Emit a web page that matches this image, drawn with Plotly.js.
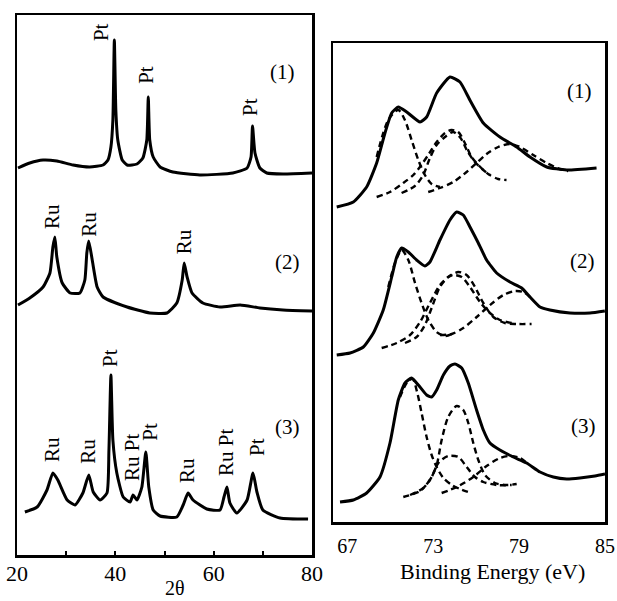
<!DOCTYPE html>
<html><head><meta charset="utf-8">
<script src="https://cdn.plot.ly/plotly-3.0.1.min.js"></script>
<style>html,body{margin:0;padding:0;background:#fff}#chart{width:617px;height:601px}</style>
</head><body><div id="chart"></div>
<script>
// ---- XRD (left panel), 2θ vs intensity (arbitrary units) ----
const xrd1X = [20.2,22.6,25.3,28.1,31.4,34.8,37.5,38.5,39.1,39.5,39.8,40.1,40.5,41.4,42.4,44.4,45.6,46.4,46.7,47.0,47.7,49.1,51.7,57.2,63.9,66.8,67.6,67.9,68.4,69.4,70.8,74.1,80.0];
const xrd1Y = [387,392,395,394,390,388,390,395,408,435,515,445,415,395,390,391,397,415,458,415,398,388,383,380,382,387,398,429,402,387,382,381,382];
const xrd2X = [20.2,22.6,25.3,26.7,27.3,27.7,28.1,29.2,30.8,32.8,33.8,34.2,34.6,35.3,36.3,37.5,42.4,47.0,50.5,52.5,53.6,54.0,54.6,55.6,57.8,61.3,65.4,69.4,74.1,80.0];
const xrd2Y = [250,257,268,282,308,318,298,272,262,262,275,302,314,295,268,258,248,242,242,252,275,292,278,262,252,248,250,247,245,244];
const xrd3X = [21.6,24.1,26.1,27.3,28.3,30.2,31.8,33.4,34.6,35.5,36.9,38.3,38.7,39.1,39.5,40.3,41.6,43.0,43.6,44.4,45.4,46.2,46.8,47.7,49.1,52.5,53.8,54.8,55.8,58.6,61.3,62.1,62.7,63.3,64.7,66.8,68.0,68.8,70.0,73.5,79.2];
const xrd3Y = [43,48,65,82,75,55,50,62,80,63,55,62,105,180,115,82,58,53,60,55,68,103,68,45,39,38,50,62,55,46,45,58,68,52,42,55,82,63,45,37,36];

// ---- XPS (right panel), binding energy (eV) vs intensity (arbitrary units) ----
const xps1X = [66.26,67.42,68.35,69.05,69.63,70.10,70.56,71.15,72.08,72.54,73.24,74.17,74.87,75.56,76.50,77.66,78.83,79.76,80.93,82.32,84.41];
const xps1Y = [315,320,335,359,389,409,415,410,400,405,429,445,440,422,399,385,375,365,355,352,354];
const xps1aX = [69.05,69.86,70.56,71.02,71.49,71.96,72.42,72.89,73.47];
const xps1aY = [365,402,412,402,382,362,347,338,335];
const xps1bX = [69.05,69.98,70.91,71.61,72.07,72.65,73.24,73.82,74.28,74.75,75.21,75.68,76.15,76.84,77.54,78.12];
const xps1bY = [325,330,339,347,355,367,380,389,392,390,379,365,357,348,343,342];
const xps1cX = [70.79,71.72,72.30,72.77,73.24,73.82,74.40,74.91,75.38,75.91,76.50,76.96];
const xps1cY = [329,336,347,364,377,385,390,384,371,360,352,347];
const xps1dX = [72.65,73.47,74.40,75.33,76.03,76.73,77.54,78.36,79.06,79.99,80.92,81.85,82.43];
const xps1dY = [330,334,340,350,359,368,375,378,375,367,359,353,351];

const xps2X = [66.26,67.19,68.12,68.82,69.51,70.10,70.45,70.80,71.26,71.84,72.42,72.77,73.47,74.17,74.64,75.10,75.57,76.15,76.73,77.43,78.36,79.18,79.76,80.46,81.15,82.55,83.95,84.99];
const xps2Y = [167,169,175,189,212,245,265,274,270,262,256,260,282,302,310,307,295,279,262,249,240,234,225,215,212,209,209,211];
const xps2aX = [69.86,70.33,70.80,71.26,71.73,72.19,72.66,73.24,73.82,74.29];
const xps2aY = [235,259,272,262,239,219,202,190,186,188];
const xps2bX = [69.40,70.45,71.38,72.08,72.77,73.47,74.05,74.40,74.99,75.57,76.27,76.96,77.66,78.48];
const xps2bY = [174,179,187,200,219,237,245,247,245,235,220,209,202,199];
const xps2cX = [71.03,71.84,72.42,72.89,73.47,74.05,74.75,75.33,75.92,76.50,77.20,78.01,78.83,79.87];
const xps2cY = [179,185,197,214,235,245,250,247,235,219,205,199,198,198];
const xps2dX = [73.47,74.29,75.10,76.04,76.97,77.90,78.71,79.29,79.76];
const xps2dY = [187,188,194,205,217,227,231,230,225];

const xps3X = [66.49,67.42,68.35,69.28,69.98,70.56,71.03,71.49,71.96,72.54,72.89,73.24,73.71,74.17,74.52,74.99,75.45,76.03,76.50,76.96,77.66,78.59,79.53,80.46,81.39,82.32,83.25,84.30,85.0];
const xps3Y = [20,22,29,45,79,122,139,144,137,127,125,132,147,156,158,154,139,112,92,79,72,65,59,50,45,43,44,46,48];
const xps3aX = [70.68,71.19,71.56,71.89,72.19,72.54,72.89,73.24,73.71,74.29,74.87,75.45];
const xps3aY = [125,140,143,129,109,85,67,55,44,37,33,30];
const xps3bX = [70.91,72.08,72.77,73.24,73.59,74.05,74.64,75.10,75.45,75.80,76.15,76.62,77.31,78.13,78.83];
const xps3bY = [25,31,42,57,82,105,116,112,99,79,62,47,39,37,38];
const xps3cX = [71.38,72.31,72.89,73.36,74.05,74.75,75.34,75.92,76.50,77.43,78.48];
const xps3cY = [27,34,45,59,66,65,55,45,40,37,37];
const xps3dX = [73.59,74.64,75.80,76.73,77.66,78.36,79.06,79.53];
const xps3dY = [29,35,45,56,64,66,64,59];

// tick labels
const xrdTicks = [20,40,60,80];
const xpsTicks = [67,73,79,85];
const sampleNames = ['(1)','(2)','(3)'];

// ---- drawing ----
const FONT = 'Liberation Serif, Times New Roman, serif';
function solid(x, y, xa, ya) {
  return {x, y, xaxis: xa, yaxis: ya, type: 'scatter', mode: 'lines',
    line: {color: '#000', width: 3, shape: 'spline', smoothing: 0.5},
    hoverinfo: 'skip', showlegend: false};
}
function dashed(x, y) {
  return {x, y, xaxis: 'x2', yaxis: 'y2', type: 'scatter', mode: 'lines',
    line: {color: '#000', width: 2.4, dash: '6px,4px', shape: 'spline', smoothing: 0.8},
    hoverinfo: 'skip', showlegend: false};
}
const traces = [
  solid(xrd1X, xrd1Y, 'x', 'y'), solid(xrd2X, xrd2Y, 'x', 'y'), solid(xrd3X, xrd3Y, 'x', 'y'),
  dashed(xps1aX, xps1aY), dashed(xps1bX, xps1bY), dashed(xps1cX, xps1cY), dashed(xps1dX, xps1dY),
  dashed(xps2aX, xps2aY), dashed(xps2bX, xps2bY), dashed(xps2cX, xps2cY), dashed(xps2dX, xps2dY),
  dashed(xps3aX, xps3aY), dashed(xps3bX, xps3bY), dashed(xps3cX, xps3cY), dashed(xps3dX, xps3dY),
  solid(xps1X, xps1Y, 'x2', 'y2'), solid(xps2X, xps2Y, 'x2', 'y2'), solid(xps3X, xps3Y, 'x2', 'y2')
];

// label placement (annotation anchors)
const peakLabelSpecs = [
  ['Pt', 37.1, 523], ['Pt', 46.2, 480], ['Pt', 67.4, 448],
  ['Ru', 27.1, 339], ['Ru', 34.6, 331], ['Ru', 54.0, 313],
  ['Ru', 27.1, 106], ['Ru', 34.4, 104], ['Pt', 38.9, 197], ['Ru Pt', 43.4, 97],
  ['Pt', 47.0, 123], ['Ru', 54.6, 84], ['Ru Pt', 62.5, 103], ['Pt', 68.8, 108]
];
const annotations = [];
peakLabelSpecs.forEach(function (s) {
  annotations.push({xref: 'x', yref: 'y', x: s[1], y: s[2], text: s[0], textangle: -90,
    showarrow: false, xanchor: 'center', yanchor: 'middle',
    font: {family: FONT, size: 21, color: '#000'}});
});
const leftNamePos = [[74.1, 483], [75.1, 293], [75.1, 128]];
const rightNamePos = [[83.2, 431], [83.4, 261], [83.5, 96]];
sampleNames.forEach(function (n, i) {
  annotations.push({xref: 'x', yref: 'y', x: leftNamePos[i][0], y: leftNamePos[i][1], text: n,
    showarrow: false, font: {family: FONT, size: 21, color: '#000'}});
  annotations.push({xref: 'x2', yref: 'y2', x: rightNamePos[i][0], y: rightNamePos[i][1], text: n,
    showarrow: false, font: {family: FONT, size: 21, color: '#000'}});
});
annotations.push({xref: 'paper', yref: 'paper', x: 175 / 617, y: 1 - 588 / 601, text: '2θ',
  showarrow: false, xanchor: 'center', yanchor: 'middle', font: {family: FONT, size: 20, color: '#000'}});
annotations.push({xref: 'paper', yref: 'paper', x: 493 / 617, y: 1 - 571 / 601, text: 'Binding Energy (eV)',
  showarrow: false, xanchor: 'center', yanchor: 'middle', font: {family: FONT, size: 22, color: '#000'}});

const axLine = {showline: true, mirror: true, linecolor: '#000', linewidth: 2.5, showgrid: false, zeroline: false};
const layout = {
  width: 617, height: 601, margin: {l: 0, r: 0, t: 0, b: 0},
  paper_bgcolor: '#fff', plot_bgcolor: '#fff', showlegend: false,
  font: {family: FONT, color: '#000'},
  xaxis: Object.assign({}, axLine, {domain: [17 / 617, 312 / 617], range: [20, 80], anchor: 'y',
    tickmode: 'array', tickvals: xrdTicks, ticks: 'inside', ticklen: 4, tickwidth: 2, tickcolor: '#000',
    ticklabelstandoff: -3,
    minor: {tickmode: 'linear', tick0: 30, dtick: 20, ticks: 'inside', ticklen: 4, tickwidth: 2, tickcolor: '#000'},
    tickfont: {family: FONT, size: 22, color: '#000'}}),
  yaxis: Object.assign({}, axLine, {domain: [1 - 555 / 601, 1 - 15 / 601], range: [0, 540], anchor: 'x',
    showticklabels: false, ticks: ''}),
  xaxis2: Object.assign({}, axLine, {domain: [333 / 617, 605 / 617], range: [66, 85], anchor: 'y2',
    tickmode: 'array', tickvals: xpsTicks, ticks: '', ticklabelstandoff: 4,
    tickfont: {family: FONT, size: 20, color: '#000'}}),
  yaxis2: Object.assign({}, axLine, {domain: [1 - 522 / 601, 1 - 43 / 601], range: [0, 479], anchor: 'x2',
    showticklabels: false, ticks: ''}),
  annotations: annotations
};
Plotly.newPlot('chart', traces, layout, {displayModeBar: false, staticPlot: true});
</script>
</body></html>
